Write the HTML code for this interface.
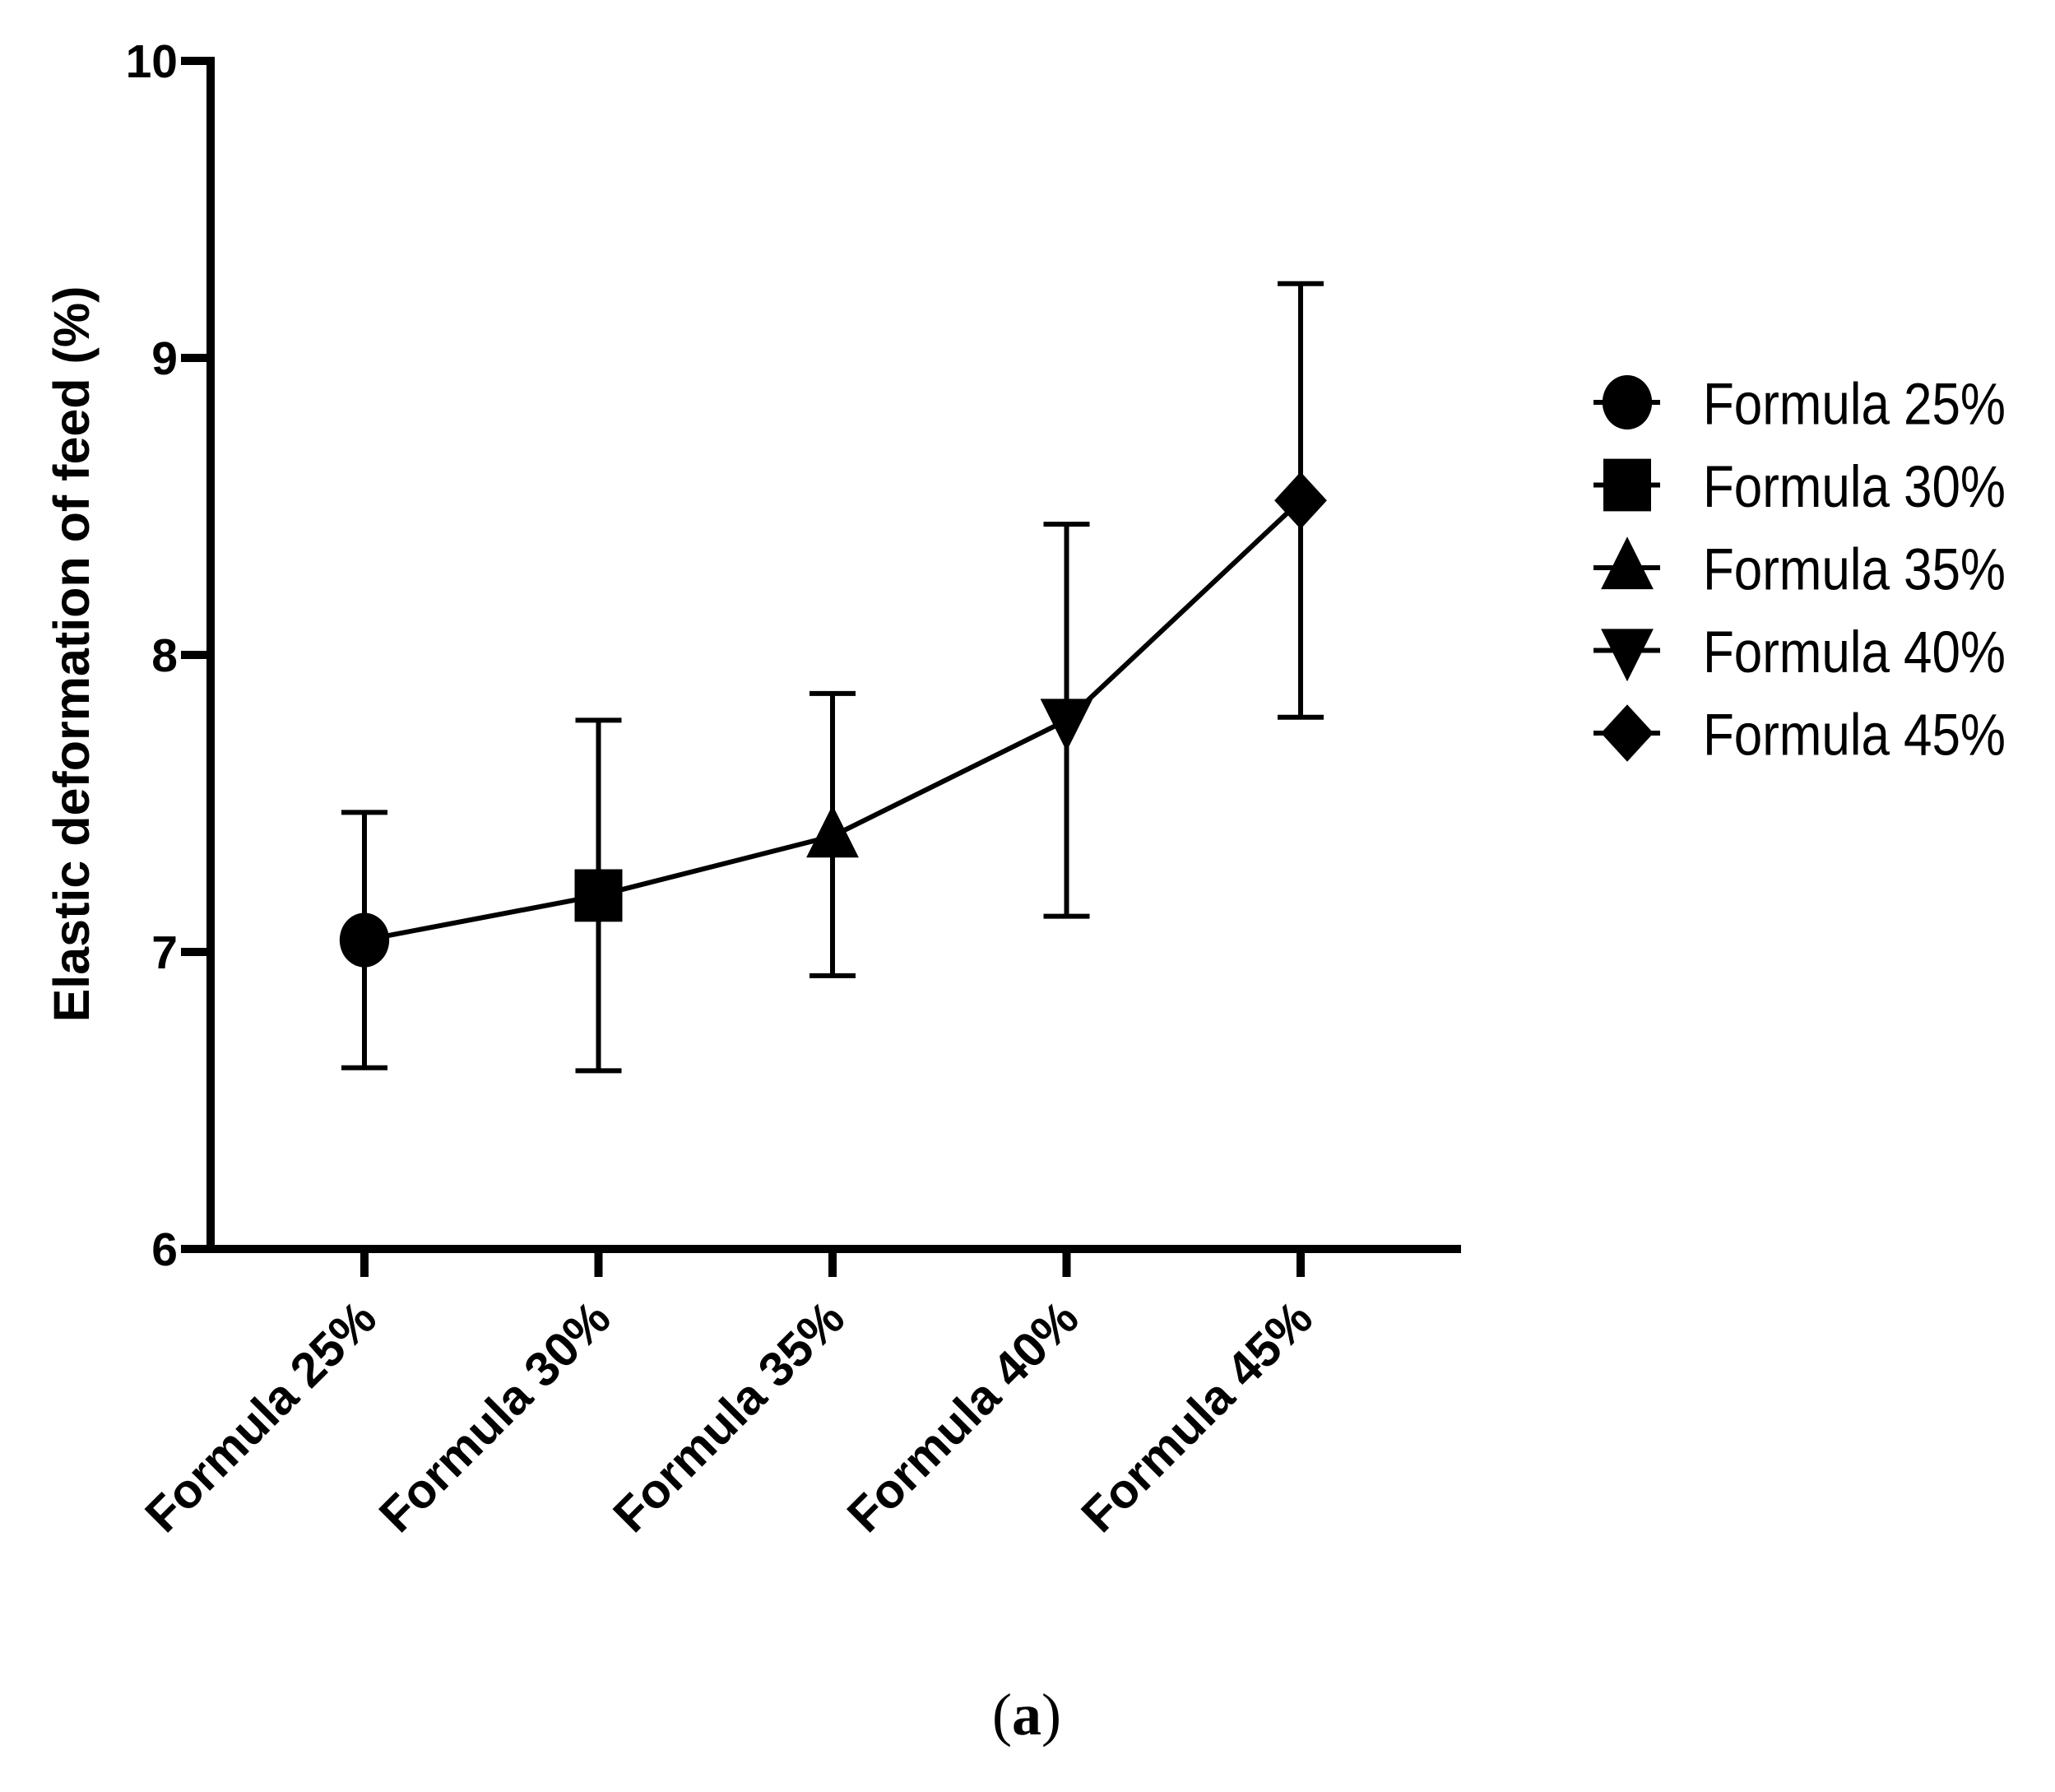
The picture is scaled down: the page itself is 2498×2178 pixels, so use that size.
<!DOCTYPE html>
<html><head><meta charset="utf-8"><style>
html,body{margin:0;padding:0;background:#fff;}
svg{display:block;font-family:"Liberation Sans",Arial,sans-serif;}
</style></head><body>
<svg id="chart" width="2498" height="2178" viewBox="0 0 2498 2178" xmlns="http://www.w3.org/2000/svg">
<g id="axes"></g>
<g id="series"></g>
<g id="legend"></g>
<text x="0" y="0" transform="translate(108,795) rotate(-90)" text-anchor="middle" font-weight="bold" font-size="61">Elastic deformation of feed (%)</text>
<text x="1248" y="2108" text-anchor="middle" font-family="Liberation Serif, serif" font-size="72">(<tspan font-weight="bold">a</tspan>)</text>
</svg>
<script>
const categories = ["Formula 25%","Formula 30%","Formula 35%","Formula 40%","Formula 45%"];
const means = [7.04, 7.19, 7.39, 7.78, 8.52];
const upper = [7.47, 7.78, 7.87, 8.44, 9.25];
const lower = [6.61, 6.60, 6.92, 7.12, 7.79];
const yTicks = [6, 7, 8, 9, 10];
const shapes = ["circle","square","triangle","tri-down","diamond"];

const NS = "http://www.w3.org/2000/svg";
const X0 = 256, X1 = 1776, Y0 = 1518, Y1 = 74;
function yScale(v){ return Y0 - (v - 6) / 4 * (Y0 - Y1); }
function xScale(i){ return 443 + i * 284.5; }
function mk(tag, attrs, parent){ const e = document.createElementNS(NS, tag); for (const k in attrs) e.setAttribute(k, attrs[k]); parent.appendChild(e); return e; }

const axes = document.getElementById('axes');
let a = mk('line', {x1:X0, y1:Y1-5, x2:X0, y2:Y0+5, stroke:'#000','stroke-width':10}, axes);


a = mk('line', {x1:X0-5, y1:Y0, x2:X1, y2:Y0, stroke:'#000','stroke-width':10}, axes);


yTicks.forEach(t => {
  const y = yScale(t);
  const l = mk('line', {x1:220, y1:y, x2:X0, y2:y, stroke:'#000','stroke-width':10}, axes);
  
  
  const tx = mk('text', {x:216, y:y+20, 'text-anchor':'end', 'font-weight':'bold', 'font-size':57}, axes);
  tx.textContent = t;
  
  
});
categories.forEach((c, i) => {
  const x = xScale(i);
  const l = mk('line', {x1:x, y1:Y0, x2:x, y2:1552, stroke:'#000','stroke-width':10}, axes);
  
  
  const tx = mk('text', {x:0, y:0, 'text-anchor':'end', 'font-weight':'bold', 'font-size':59, transform:`translate(${x+18},${1606}) rotate(-45)`}, axes);
  tx.textContent = c;
  
  
});

function marker(shape, cx, cy, s, parent){
  let e;
  if (shape === 'circle') e = mk('ellipse', {cx, cy, rx:s*0.52, ry:s*0.57}, parent);
  else if (shape === 'square') e = mk('rect', {x:cx-s*0.5, y:cy-s*0.55, width:s, height:s*1.1}, parent);
  else if (shape === 'triangle') e = mk('polygon', {points:`${cx},${cy-s*0.65} ${cx-s*0.55},${cy+s*0.45} ${cx+s*0.55},${cy+s*0.45}`}, parent);
  else if (shape === 'tri-down') e = mk('polygon', {points:`${cx},${cy+s*0.65} ${cx-s*0.55},${cy-s*0.45} ${cx+s*0.55},${cy-s*0.45}`}, parent);
  else e = mk('polygon', {points:`${cx},${cy-s*0.6} ${cx+s*0.55},${cy} ${cx},${cy+s*0.6} ${cx-s*0.55},${cy}`}, parent);
  e.setAttribute('fill','#000');
  return e;
}

const series = document.getElementById('series');
categories.forEach((c, i) => {
  const x = xScale(i);
  const g = mk('g', {}, series);
  
  
  mk('line', {x1:x, y1:yScale(upper[i]), x2:x, y2:yScale(lower[i]), stroke:'#000','stroke-width':6}, g);
  mk('line', {x1:x-28, y1:yScale(upper[i]), x2:x+28, y2:yScale(upper[i]), stroke:'#000','stroke-width':6}, g);
  mk('line', {x1:x-28, y1:yScale(lower[i]), x2:x+28, y2:yScale(lower[i]), stroke:'#000','stroke-width':6}, g);
});
const pl = mk('polyline', {points: means.map((m,i)=>`${xScale(i)},${yScale(m)}`).join(' '), fill:'none', stroke:'#000','stroke-width':6}, series);


means.forEach((m, i) => {
  const e = marker(shapes[i], xScale(i), yScale(m), 58, series);
  
  
});

const legend = document.getElementById('legend');
categories.forEach((c, i) => {
  const y = 489 + i * 100.5;
  const g = mk('g', {}, legend);
  
  
  mk('line', {x1:1937, y1:y, x2:2018, y2:y, stroke:'#000','stroke-width':6}, g);
  marker(shapes[i], 1978, y, 58, g);
  const t = mk('text', {x:2070, y:y+23, 'font-size':62, 'textLength':368, transform:`translate(0,${y}) scale(1,1.15) translate(0,${-y})`}, g);
  t.textContent = c;
});
</script>
</body></html>
